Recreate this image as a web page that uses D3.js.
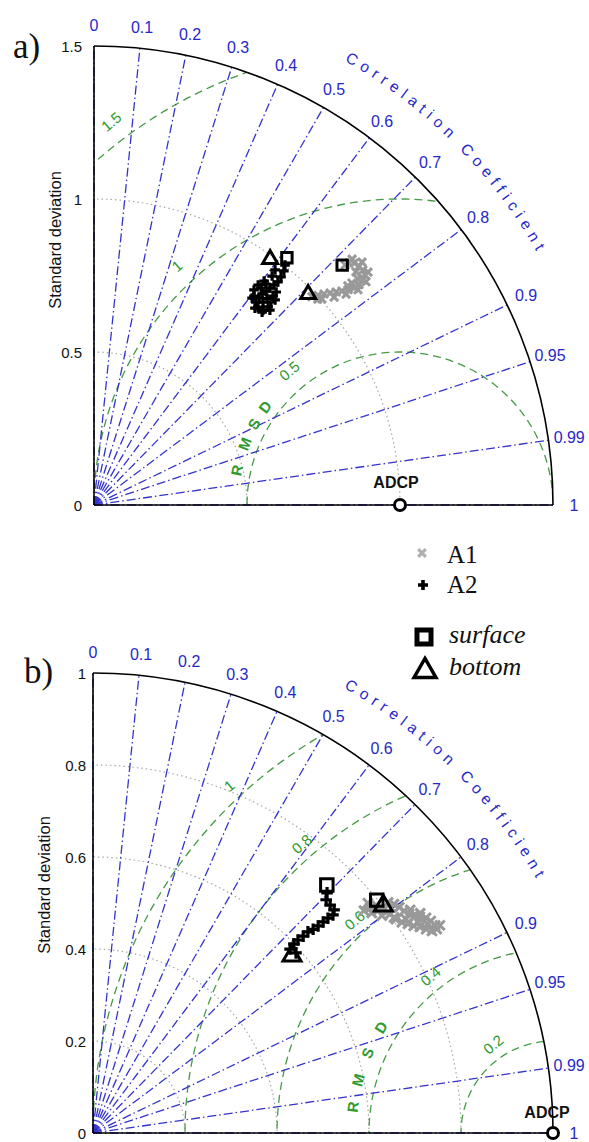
<!DOCTYPE html>
<html>
<head>
<meta charset="utf-8">
<script src="https://cdn.jsdelivr.net/npm/d3@7"></script>
<style>
  body { margin: 0; background: #fff; }
  svg { display: block; font-family: "Liberation Sans", Arial, sans-serif; }
</style>
</head>
<body>
<svg id="chart" width="589" height="1142"></svg>
<script>
// ---- Axis ticks -----------------------------------------------------------
const corrTicks = [0, 0.1, 0.2, 0.3, 0.4, 0.5, 0.6, 0.7, 0.8, 0.9, 0.95, 0.99, 1];
const corrTickLabels = ["0", "0.1", "0.2", "0.3", "0.4", "0.5", "0.6", "0.7", "0.8", "0.9", "0.95", "0.99", "1"];

const stdTicksA = [0, 0.5, 1, 1.5];
const stdTickLabelsA = ["0", "0.5", "1", "1.5"];
const stdTicksB = [0, 0.2, 0.4, 0.6, 0.8, 1];
const stdTickLabelsB = ["0", "0.2", "0.4", "0.6", "0.8", "1"];

const rmsTicksA = [0.5, 1, 1.5];
const rmsTickLabelsA = ["0.5", "1", "1.5"];
const rmsTicksB = [0.2, 0.4, 0.6, 0.8, 1];
const rmsTickLabelsB = ["0.2", "0.4", "0.6", "0.8", "1"];

// Reference (ADCP) standard deviation, normalised
const refStd = 1;

// ---- Panel a: model runs (standard deviation, correlation) ----------------
const a1StdA  = [0.985, 0.994, 1.004, 1.003, 1.020, 1.038, 1.037, 1.054, 1.074, 1.070, 1.088, 1.096, 1.113, 1.107, 1.112, 1.126, 1.136, 1.150, 1.146, 1.162, 1.175, 1.146, 1.167, 1.182, 1.166, 1.161, 1.165, 1.149, 1.135];
const a1CorrA = [0.723, 0.736, 0.742, 0.730, 0.737, 0.756, 0.744, 0.751, 0.767, 0.757, 0.763, 0.757, 0.775, 0.768, 0.758, 0.769, 0.760, 0.773, 0.767, 0.762, 0.762, 0.747, 0.753, 0.741, 0.743, 0.732, 0.724, 0.725, 0.723];
const a2StdA  = [1.002, 0.985, 0.970, 0.964, 0.948, 0.945, 0.929, 0.919, 0.915, 0.913, 0.897, 0.897, 0.895, 0.882, 0.876, 0.865, 0.860, 0.851, 0.848, 0.840, 0.831, 0.836, 0.843, 0.863, 0.858, 0.862, 0.880, 0.881, 0.894, 0.899, 0.916];
const a2CorrA = [0.623, 0.630, 0.610, 0.634, 0.614, 0.636, 0.633, 0.605, 0.614, 0.630, 0.627, 0.598, 0.610, 0.623, 0.597, 0.624, 0.608, 0.607, 0.624, 0.638, 0.633, 0.657, 0.655, 0.640, 0.670, 0.660, 0.657, 0.642, 0.662, 0.651, 0.650];
const surfaceStdA  = [1.128, 1.025];
const surfaceCorrA = [0.719, 0.615];
const bottomStdA   = [0.987, 0.994];
const bottomCorrA  = [0.709, 0.579];

// ---- Panel b --------------------------------------------------------------
const a1StdB  = [0.762, 0.779, 0.776, 0.790, 0.814, 0.786, 0.822, 0.805, 0.827, 0.831, 0.824, 0.836, 0.843, 0.842, 0.852, 0.857, 0.843, 0.862, 0.858, 0.867, 0.870, 0.879, 0.869, 0.858, 0.849, 0.840, 0.830, 0.822, 0.813, 0.806, 0.802, 0.797, 0.786, 0.772];
const a1CorrB = [0.773, 0.767, 0.776, 0.779, 0.788, 0.799, 0.796, 0.813, 0.805, 0.814, 0.826, 0.822, 0.818, 0.829, 0.834, 0.830, 0.839, 0.840, 0.848, 0.847, 0.855, 0.858, 0.860, 0.859, 0.853, 0.846, 0.840, 0.833, 0.826, 0.817, 0.805, 0.793, 0.788, 0.785];
const a2StdB  = [0.729, 0.717, 0.715, 0.714, 0.705, 0.692, 0.679, 0.665, 0.652, 0.640, 0.626, 0.612, 0.600, 0.586, 0.590];
const a2CorrB = [0.698, 0.707, 0.721, 0.734, 0.740, 0.738, 0.737, 0.736, 0.734, 0.730, 0.730, 0.728, 0.728, 0.731, 0.748];
const surfaceStdB  = [0.798, 0.741];
const surfaceCorrB = [0.773, 0.686];
const bottomStdB   = [0.805, 0.583];
const bottomCorrB  = [0.784, 0.742];

const seriesNames = ["A1", "A2"];
const levelNames = ["surface", "bottom"];

// ---- Styling --------------------------------------------------------------
const BLUE = "#2828c8", BLUE_LINE = "#3434cc", GREEN = "#2f9a2f", GREEN_LINE = "#479a47";
const GRAY_MARK = "#999999";
const SERIF = "'Liberation Serif', 'Times New Roman', serif";

const panels = [
  {
    tag: "a)", tagX: 13, tagY: 58,
    ox: 94, oy: 505, R: 459, rmax: 1.5,
    stdTicks: stdTicksA, stdLabels: stdTickLabelsA, stdGap: 12,
    rmsTicks: rmsTicksA, rmsLabels: rmsTickLabelsA, rmsLabelOff: 21, rmsLabelAng: [129.5, 133, 127],
    rmsdTitle: { r: 167, angles: [168, 158.5, 151, 144] },
    ylabX: 55, ylabY: 240,
    a1Std: a1StdA, a1Corr: a1CorrA, a2Std: a2StdA, a2Corr: a2CorrA,
    surfStd: surfaceStdA, surfCorr: surfaceCorrA, botStd: bottomStdA, botCorr: bottomCorrA,
    mk: 1.0, adcpDx: -4, adcpDy: -17
  },
  {
    tag: "b)", tagX: 24, tagY: 683,
    ox: 93, oy: 1133, R: 460, rmax: 1.0,
    stdTicks: stdTicksB, stdLabels: stdTickLabelsB, stdGap: 7,
    rmsTicks: rmsTicksB, rmsLabels: rmsTickLabelsB, rmsLabelOff: 15, rmsLabelAng: [124, 128, 133, 131, 133],
    rmsdTitle: { r: 202, angles: [172.6, 164.8, 156.7, 148.4] },
    ylabX: 44, ylabY: 885,
    a1Std: a1StdB, a1Corr: a1CorrB, a2Std: a2StdB, a2Corr: a2CorrB,
    surfStd: surfaceStdB, surfCorr: surfaceCorrB, botStd: bottomStdB, botCorr: bottomCorrB,
    mk: 1.2, adcpDx: -6, adcpDy: -15
  }
];

// ---- Marker shapes --------------------------------------------------------
const crossPath  = s => `M${-s},${-s}L${s},${s}M${-s},${s}L${s},${-s}`;
const plusPath   = s => `M${-s},0L${s},0M0,${-s}L0,${s}`;
const squarePath = s => `M${-s},${-s}H${s}V${s}H${-s}Z`;
const triPath    = s => { const h = s * Math.sqrt(3) / 2; return `M0,${-h / 2}L${s / 2},${h / 2}L${-s / 2},${h / 2}Z`; };

const svg = d3.select("#chart");
svg.append("rect").attr("width", 589).attr("height", 1142).attr("fill", "#fff");
const defs = svg.append("defs");

// measure single characters for the curved caption
const meas = svg.append("text").attr("font-size", 15.5).attr("visibility", "hidden");
const charWidth = ch => { meas.text(ch === " " ? "\u00a0" : ch); return meas.node().getComputedTextLength(); };

panels.forEach((p, pi) => {
  const r = d3.scaleLinear().domain([0, p.rmax]).range([0, p.R]);
  // polar (std, corr) -> screen
  const pos = (s, c) => [p.ox + r(s * c), p.oy - r(s * Math.sqrt(Math.max(0, 1 - c * c)))];
  const g = svg.append("g");

  const clipId = "quad" + pi;
  defs.append("clipPath").attr("id", clipId).append("path")
    .attr("d", `M${p.ox},${p.oy}L${p.ox},${p.oy - p.R}A${p.R},${p.R} 0 0 1 ${p.ox + p.R},${p.oy}Z`);
  const clipped = g.append("g").attr("clip-path", `url(#${clipId})`);

  // standard deviation circles
  clipped.selectAll("circle.std")
    .data(p.stdTicks.filter(s => s > 0 && s < p.rmax))
    .join("circle")
    .attr("cx", p.ox).attr("cy", p.oy).attr("r", d => r(d))
    .attr("fill", "none").attr("stroke", "#a6a6a6").attr("stroke-width", 1.2)
    .attr("stroke-dasharray", "1.5,3");

  // centred RMS difference circles
  const ref = pos(refStd, 1);
  clipped.selectAll("circle.rms")
    .data(p.rmsTicks)
    .join("circle")
    .attr("cx", ref[0]).attr("cy", ref[1]).attr("r", d => r(d))
    .attr("fill", "none").attr("stroke", GREEN_LINE).attr("stroke-width", 1.3)
    .attr("stroke-dasharray", "8,5");

  // correlation rays
  g.selectAll("line.corr")
    .data(corrTicks)
    .join("line")
    .attr("x1", p.ox).attr("y1", p.oy)
    .attr("x2", d => pos(p.rmax, d)[0]).attr("y2", d => pos(p.rmax, d)[1])
    .attr("stroke", BLUE_LINE).attr("stroke-width", 1.3)
    .attr("stroke-dasharray", "9,3,1.5,3");

  // frame: outer arc and two axes
  g.append("path")
    .attr("d", `M${p.ox},${p.oy - p.R}A${p.R},${p.R} 0 0 1 ${p.ox + p.R},${p.oy}`)
    .attr("fill", "none").attr("stroke", "#000").attr("stroke-width", 1.6);
  g.append("line").attr("x1", p.ox).attr("y1", p.oy).attr("x2", p.ox).attr("y2", p.oy - p.R)
    .attr("stroke", "#000").attr("stroke-width", 1.6);
  g.append("line").attr("x1", p.ox).attr("y1", p.oy).attr("x2", p.ox + p.R).attr("y2", p.oy)
    .attr("stroke", "#000").attr("stroke-width", 1.6);

  // std tick labels
  g.selectAll("text.std")
    .data(p.stdTicks)
    .join("text")
    .attr("x", p.ox - p.stdGap).attr("y", d => p.oy - r(d))
    .attr("text-anchor", "end").attr("dominant-baseline", "central")
    .attr("font-size", 15).attr("fill", "#111")
    .text((d, i) => p.stdLabels[i]);

  // correlation labels
  g.selectAll("text.corr")
    .data(corrTicks)
    .join("text")
    .attr("x", (d) => p.ox + (p.R + 21) * d)
    .attr("y", (d) => p.oy - (p.R + 21) * Math.sqrt(1 - d * d))
    .attr("text-anchor", "middle").attr("dominant-baseline", "central")
    .attr("font-size", 16).attr("fill", BLUE)
    .text((d, i) => corrTickLabels[i]);

  // "Correlation Coefficient", one glyph at a time along an arc
  const caption = "Correlation Coefficient".split("");
  const widths = caption.map(charWidth);
  const rb = p.R + 51;
  const startDeg = 60.6, arcLen = 274;
  const spacing = (arcLen - d3.sum(widths)) / (caption.length - 1);
  let acc = 0;
  const glyphs = caption.map((ch, i) => {
    const mid = acc + widths[i] / 2;
    acc += widths[i] + spacing;
    const deg = startDeg - (mid / rb) * 180 / Math.PI;
    return { ch, deg };
  }).filter(d => d.ch !== " ");
  g.selectAll("text.cc")
    .data(glyphs)
    .join("text")
    .attr("transform", d => {
      const a = d.deg * Math.PI / 180;
      return `translate(${p.ox + rb * Math.cos(a)},${p.oy - rb * Math.sin(a)}) rotate(${90 - d.deg})`;
    })
    .attr("text-anchor", "middle")
    .attr("font-size", 15.5).attr("fill", BLUE)
    .text(d => d.ch);

  // RMS labels
  g.selectAll("text.rms")
    .data(p.rmsTicks)
    .join("text")
    .attr("transform", (d, i) => {
      const la = p.rmsLabelAng[i] * Math.PI / 180;
      const rr = r(d) + p.rmsLabelOff;
      return `translate(${ref[0] + rr * Math.cos(la)},${ref[1] - rr * Math.sin(la)}) rotate(-40)`;
    })
    .attr("text-anchor", "middle").attr("dominant-baseline", "central")
    .attr("font-size", 15).attr("fill", GREEN)
    .text((d, i) => p.rmsLabels[i]);

  // "R M S D" letters around the reference point
  g.selectAll("text.rmsd")
    .data("RMSD".split(""))
    .join("text")
    .attr("transform", (d, i) => {
      const a = p.rmsdTitle.angles[i];
      const ar = a * Math.PI / 180;
      return `translate(${ref[0] + p.rmsdTitle.r * Math.cos(ar)},${ref[1] - p.rmsdTitle.r * Math.sin(ar)}) rotate(${-(a - 90)})`;
    })
    .attr("text-anchor", "middle").attr("dominant-baseline", "central")
    .attr("font-size", 15).attr("font-weight", "bold").attr("fill", GREEN)
    .text(d => d);

  // y-axis title
  g.append("text")
    .attr("transform", `translate(${p.ylabX},${p.ylabY}) rotate(-90)`)
    .attr("text-anchor", "middle").attr("dominant-baseline", "central")
    .attr("font-size", 16.5).attr("fill", "#111")
    .text("Standard deviation");

  // panel tag
  g.append("text").attr("x", p.tagX).attr("y", p.tagY)
    .style("font-family", SERIF)
    .attr("font-size", 35).attr("fill", "#111").text(p.tag);

  // series A1 (grey crosses) and A2 (black pluses)
  const m = p.mk;
  g.selectAll("path.a1")
    .data(d3.zip(p.a1Std, p.a1Corr))
    .join("path")
    .attr("transform", d => `translate(${pos(d[0], d[1])})`)
    .attr("d", crossPath(4 * m))
    .attr("stroke", GRAY_MARK).attr("stroke-width", 3).attr("fill", "none");
  g.selectAll("path.a2")
    .data(d3.zip(p.a2Std, p.a2Corr))
    .join("path")
    .attr("transform", d => `translate(${pos(d[0], d[1])})`)
    .attr("d", plusPath(4.8 * m))
    .attr("stroke", "#000").attr("stroke-width", 3.2).attr("fill", "none");

  // surface (square) and bottom (triangle) levels
  g.selectAll("path.surf")
    .data(d3.zip(p.surfStd, p.surfCorr))
    .join("path")
    .attr("transform", d => `translate(${pos(d[0], d[1])})`)
    .attr("d", squarePath(5.2 * m))
    .attr("stroke", "#000").attr("stroke-width", 3).attr("fill", "none");
  g.selectAll("path.bot")
    .data(d3.zip(p.botStd, p.botCorr))
    .join("path")
    .attr("transform", d => `translate(${pos(d[0], d[1])})`)
    .attr("d", triPath(15 * m))
    .attr("stroke", "#000").attr("stroke-width", 3).attr("fill", "none");

  // reference point
  g.append("circle").attr("cx", ref[0]).attr("cy", ref[1]).attr("r", 5.5)
    .attr("fill", "#fff").attr("stroke", "#000").attr("stroke-width", 3);
  g.append("text").attr("x", ref[0] + p.adcpDx).attr("y", ref[1] + p.adcpDy)
    .attr("text-anchor", "middle").attr("font-size", 16).attr("font-weight", "bold")
    .attr("fill", "#111").text("ADCP");
});
meas.remove();

// ---- Legend ---------------------------------------------------------------
const leg = svg.append("g");
leg.append("path").attr("transform", "translate(422,553)").attr("d", crossPath(3.8))
  .attr("stroke", "#b0b0b0").attr("stroke-width", 3.2);
leg.append("path").attr("transform", "translate(423,585)").attr("d", plusPath(5))
  .attr("stroke", "#000").attr("stroke-width", 3.6);
leg.append("path").attr("transform", "translate(424,637)").attr("d", squarePath(7))
  .attr("stroke", "#000").attr("stroke-width", 5).attr("fill", "none");
leg.append("path").attr("transform", "translate(425,668)").attr("d", triPath(22))
  .attr("stroke", "#000").attr("stroke-width", 3.4).attr("fill", "none");
leg.selectAll("text.s").data(seriesNames).join("text")
  .attr("x", 447).attr("y", (d, i) => 563 + i * 30)
  .style("font-family", SERIF).attr("font-size", 25).attr("fill", "#111").text(d => d);
leg.selectAll("text.l").data(levelNames).join("text")
  .attr("x", 449).attr("y", (d, i) => 643 + i * 32)
  .style("font-family", SERIF).attr("font-style", "italic").attr("font-size", 26)
  .attr("fill", "#111").text(d => d);
</script>
</body>
</html>
